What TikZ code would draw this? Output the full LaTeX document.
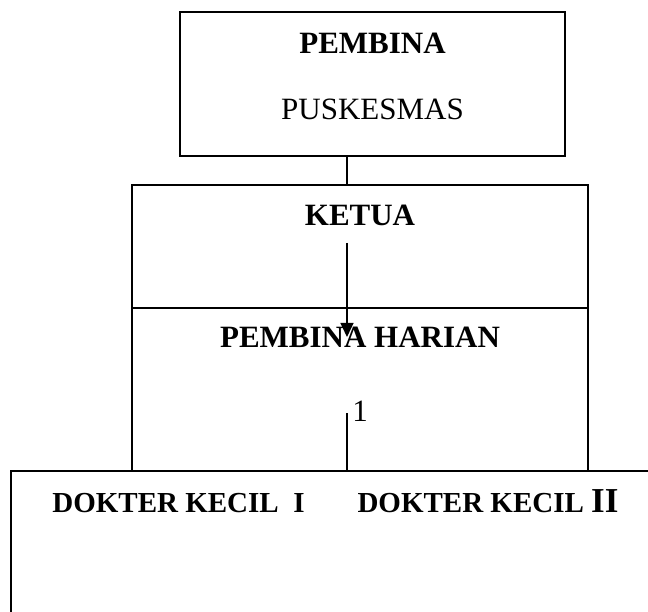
\documentclass[tikz,border=0pt]{standalone}
\usepackage{fontspec}
\setmainfont{Liberation Serif}
\usetikzlibrary{positioning,arrows.meta}

\begin{document}
\begin{tikzpicture}[x=1pt,y=-1pt,line width=1.4pt,
  every node/.style={inner sep=0pt},
  box/.style={draw,rectangle},
  title/.style={font=\fontsize{31}{36}\selectfont\bfseries},
  small title/.style={font=\fontsize{29}{34}\selectfont\bfseries},
  plain/.style={font=\fontsize{31}{36}\selectfont}]
 \useasboundingbox (0,0) rectangle (648,612);
 \clip (0,0) rectangle (648,612);
 % boxes
 \node[box, minimum width=385pt, minimum height=144pt] (pembina) at (372.5,84) {};
 \node[box, minimum width=456pt, minimum height=123pt] (ketua) at (360,246.5) {};
 \node[box, minimum width=456pt, minimum height=163pt] (harian) at (360,389.5) {};
 \node[box, minimum width=659pt, minimum height=169pt] (dokter) at (340.5,555.5) {};
 % texts
 \node[title, below=21pt of pembina.north] (pembinaT) {PEMBINA};
 \node[plain, below=44pt of pembinaT] (puskesmas) {PUSKESMAS};
 \node[title, below=20pt of ketua.north] (ketuaT) {KETUA};
 \node[title, below=19pt of harian.north] (harianT) {PEMBINA HARIAN};
 \node[plain] (one) at (360,411) {1};
 \node[small title, anchor=base] (dk1) at (178.5,512) {DOKTER KECIL\ \ I};
 \node[small title, anchor=base] (dk2) at (488,512) {DOKTER KECIL {\fontsize{35}{40}\selectfont II}};
 % connectors
 \coordinate (spine) at (347,0);
 \coordinate (arrowS) at (347,243);
 \coordinate (arrowE) at (347,337);
 \coordinate (tick) at (347,413);
 \draw (pembina.south -| spine) -- (ketua.north -| spine);
 \draw[-{Triangle[width=13pt,length=14pt]}] (arrowS) -- (arrowE);
 \draw (tick) -- (dokter.north -| spine);
\end{tikzpicture}
\end{document}
